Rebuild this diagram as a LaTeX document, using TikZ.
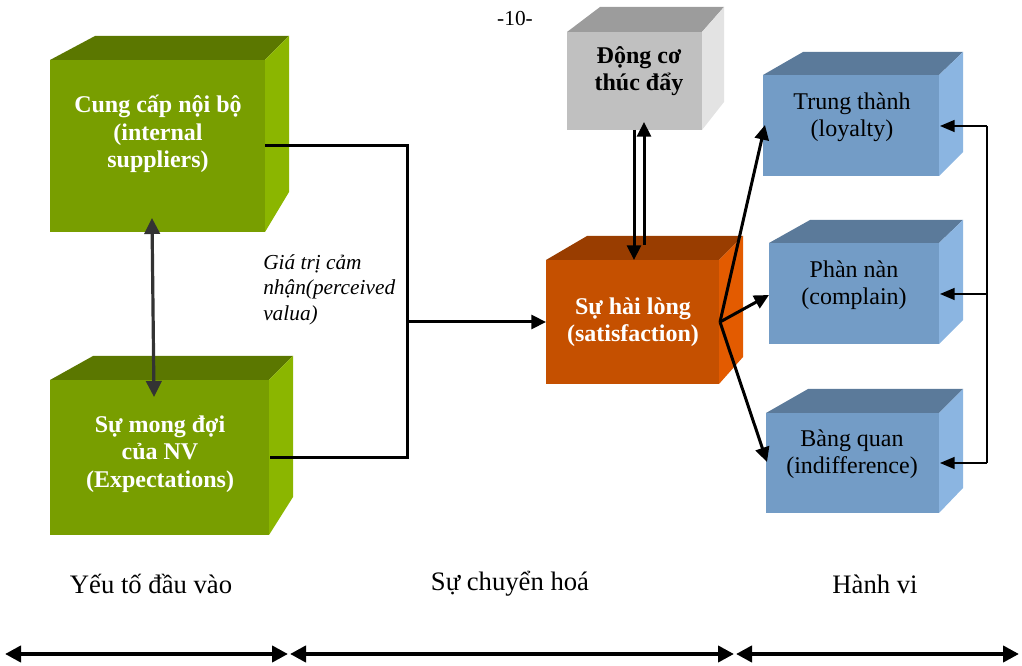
\documentclass[tikz,border=0pt]{standalone}
\usepackage{fontspec}
\setmainfont{Liberation Serif}
\usetikzlibrary{arrows.meta}
\definecolor{gfront}{HTML}{789E00}
\definecolor{gtop}{HTML}{5B7700}
\definecolor{gside}{HTML}{8BB600}
\definecolor{ofront}{HTML}{C55000}
\definecolor{otop}{HTML}{993D00}
\definecolor{oside}{HTML}{E35B00}
\definecolor{kfront}{HTML}{C0C0C0}
\definecolor{ktop}{HTML}{9C9C9C}
\definecolor{kside}{HTML}{E3E3E3}
\definecolor{bfront}{HTML}{739CC6}
\definecolor{btop}{HTML}{5B7A9A}
\definecolor{bside}{HTML}{8BB5E1}
\definecolor{darkarrow}{HTML}{333333}
\newcommand\mybox[9]{%
  % #1 prefix colour, #2 fl, #3 ft, #4 fr, #5 fb, #6 bl, #7 bt, #8 br, #9 side bottom
  \fill[#1top] (#2,#3) -- (#6,#7) -- (#8,#7) -- (#4,#3) -- cycle;
  \fill[#1side] (#4,#3) -- (#8,#7) -- (#8,#9) -- (#4,#5) -- cycle;
  \fill[#1front] (#2,#3) rectangle (#4,#5);
}
\tikzset{
  boldtxt/.style={align=center, font=\fontsize{18}{20.6}\selectfont\bfseries, inner sep=0pt},
  bluetxt/.style={align=center, font=\fontsize{18}{20}\selectfont, inner sep=0pt},
  labeltxt/.style={font=\fontsize{20}{22}\selectfont, inner sep=0pt},
  flow/.style={line width=2.25pt, line join=miter, -{Triangle[length=11pt,width=10.5pt]}},
  plain/.style={line width=2.25pt, line join=miter},
  fb/.style={line width=1.1pt, -{Triangle[length=11pt,width=9pt]}},
  span/.style={line width=3.4pt, {Triangle[length=12pt,width=12pt]}-{Triangle[length=12pt,width=12pt]}},
}
\begin{document}
\begin{tikzpicture}[x=0.75pt,y=-0.75pt]
\useasboundingbox (0,0) rectangle (1022,666);
% boxes
\mybox{g}{50}{60}{265}{232}{95}{36}{289}{192}
\mybox{g}{50}{380}{269}{535}{93}{356}{293}{497}
\mybox{o}{546}{260}{719}{384}{587}{236}{743}{357}
\mybox{k}{567}{32}{702}{130}{600}{7}{724}{102}
\mybox{b}{763}{75}{939}{176}{803}{52}{963}{152}
\mybox{b}{769}{243}{939}{344}{810}{220}{963}{320}
\mybox{b}{766}{413}{939}{513}{808}{389}{963}{488}
% texts
\node[boldtxt, text=white] (g1) at (158,134) {Cung cấp nội bộ\\(internal\\suppliers)};
\node[boldtxt, text=white] (g2) at (160,454) {Sự mong đợi\\của NV\\(Expectations)};
\node[boldtxt, text=white] (sat) at (633,322) {Sự hài lòng\\(satisfaction)};
\node[boldtxt, text=black] (mot) at (639,71) {Động cơ\\thúc đẩy};
\node[bluetxt] (loy) at (852,117) {Trung thành\\(loyalty)};
\node[bluetxt] (com) at (854,285) {Phàn nàn\\(complain)};
\node[bluetxt] (ind) at (852,454) {Bàng quan\\(indifference)};
\node[align=left, anchor=north west, font=\fontsize{16}{19.2}\selectfont\itshape, inner sep=0pt] (pv) at (263,254) {Giá trị cảm\\nhận(perceived\\valua)};
\node[font=\fontsize{16}{19}\selectfont, inner sep=0pt] (pg) at (515,19) {-10-};
\node[labeltxt] (l1) at (151,584) {Yếu tố đầu vào};
\node[labeltxt] (l2) at (510,584) {Sự chuyển hoá};
\node[labeltxt] (l3) at (875,584) {Hành vi};
% connector coordinates
\coordinate (g1out) at (265,146);
\coordinate (g2out) at (270,458);
\coordinate (junc) at (407,322);
\coordinate (satin) at (546,322);
\coordinate (g1in) at (152,218);
\coordinate (g2in) at (154,397);
\coordinate (motdown) at (634,130);
\coordinate (satup) at (634,260);
\coordinate (satsrc) at (644,245);
\coordinate (motin) at (644,122);
\coordinate (satout) at (720,322);
\coordinate (loyin) at (765,125);
\coordinate (comin) at (769,295);
\coordinate (indin) at (767,462);
\coordinate (fbtop) at (987,126);
\coordinate (fbmid) at (987,294);
\coordinate (fbbot) at (987,463);
\coordinate (loyr) at (940,126);
\coordinate (comr) at (940,294);
\coordinate (indr) at (940,463);
\coordinate (a1) at (5,654);
\coordinate (a2) at (288,654);
\coordinate (a3) at (290,654);
\coordinate (a4) at (734,654);
\coordinate (a5) at (736,654);
\coordinate (a6) at (1019,654);
% connectors
\draw[plain] (g1out) -| (junc);
\draw[plain] (g2out) -| (junc);
\draw[flow] (junc) -- (satin);
\draw[line width=2.4pt, darkarrow, {Triangle[length=12pt,width=11.5pt]}-{Triangle[length=12pt,width=11.5pt]}] (g1in) -- (g2in);
\draw[flow] (motdown) -- (satup);
\draw[flow] (satsrc) -- (motin);
\draw[flow] (satout) -- (loyin);
\draw[flow] (satout) -- (comin);
\draw[flow] (satout) -- (indin);
\draw[line width=1.1pt] (fbtop) -- (fbbot);
\draw[fb] (fbtop) -- (loyr);
\draw[fb] (fbmid) -- (comr);
\draw[fb] (fbbot) -- (indr);
\draw[span] (a1) -- (a2);
\draw[span] (a3) -- (a4);
\draw[span] (a5) -- (a6);
\end{tikzpicture}
\end{document}
